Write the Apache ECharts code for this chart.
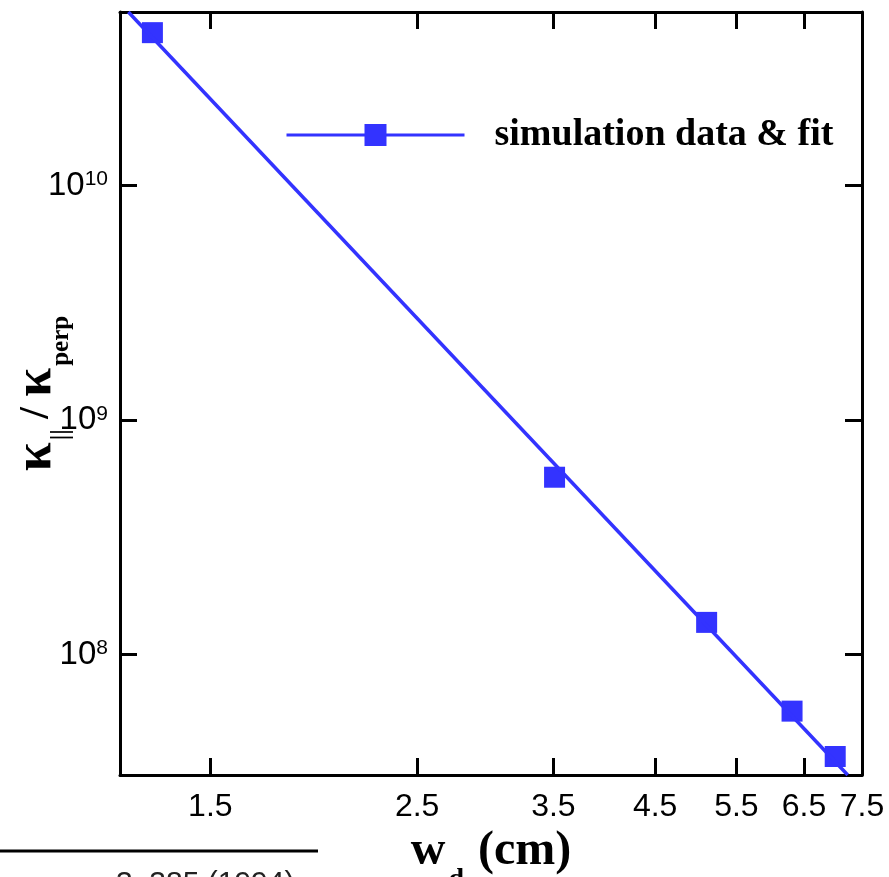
<!DOCTYPE html>
<html><head><meta charset="utf-8">
<script src="https://cdn.jsdelivr.net/npm/echarts@6/dist/echarts.min.js"></script>
<style>html,body{margin:0;padding:0;background:#fff}#c{width:889px;height:877px}</style>
</head><body><div id="c"></div>
<script>
const seriesName = 'simulation data & fit';
const simX = [1.30, 3.51, 5.11, 6.31, 7.02];
const simY = [4.49e10, 5.70e8, 1.37e8, 5.73e7, 3.67e7];
const fitX = [1.225, 7.24];
const fitY = [5.5e10, 3.06e7];
const xTicks = [1.5, 2.5, 3.5, 4.5, 5.5, 6.5, 7.5];
const xTickLabels = ['1.5', '2.5', '3.5', '4.5', '5.5', '6.5', '7.5'];
const yTicks = [1e8, 1e9, 1e10];
const yTickExps = ['8', '9', '10'];
const xRange = [1.2, 7.5];
const yRange = [3.06e7, 5.5e10];

const BLUE = '#3333ff';
function nearestIdx(arr, v) {
  let b = 0;
  for (let i = 1; i < arr.length; i++) {
    if (Math.abs(Math.log(arr[i]) - Math.log(v)) < Math.abs(Math.log(arr[b]) - Math.log(v))) b = i;
  }
  return b;
}
const chart = echarts.init(document.getElementById('c'), null, {renderer: 'canvas'});
const axisLineStyle = {color: '#000', width: 3};
const tickCommon = {show: true, inside: true, length: 17, lineStyle: {color: '#000', width: 3}};
const serif = 'Liberation Serif';

const option = {
  animation: false,
  backgroundColor: '#fff',
  grid: {left: 120, right: 27, top: 12, bottom: 102, containLabel: false, outerBoundsMode: 'none'},
  legend: {
    data: [seriesName],
    left: 285, top: 116, padding: 0,
    itemWidth: 178, itemHeight: 27.5,
    lineStyle: {width: 3},
    textStyle: {fontFamily: serif, fontWeight: 'bold', fontSize: 38, color: '#000', padding: [0, 0, 0, 25]},
    selectedMode: false
  },
  xAxis: [{
    type: 'log', min: xRange[0], max: xRange[1], position: 'bottom',
    axisLine: {lineStyle: axisLineStyle},
    axisTick: Object.assign({customValues: xTicks}, tickCommon),
    minorTick: {show: false},
    splitLine: {show: false},
    axisLabel: {
      customValues: xTicks, margin: 16,
      fontFamily: 'Liberation Sans', fontSize: 32, color: '#000',
      formatter: v => xTickLabels[nearestIdx(xTicks, v)]
    },
    name: '{m|w}{s|d}{m| (cm)}',
    nameLocation: 'middle', nameGap: 53, nameMoveOverlap: false,
    nameTextStyle: {
      rich: {
        m: {fontFamily: serif, fontWeight: 'bold', fontSize: 48, lineHeight: 48, color: '#000'},
        s: {fontFamily: serif, fontWeight: 'bold', fontSize: 28, lineHeight: 28, color: '#000', verticalAlign: 'top', padding: [38, 2, 0, 3]}
      }
    }
  }, {
    type: 'log', min: xRange[0], max: xRange[1], position: 'top',
    axisLine: {lineStyle: axisLineStyle},
    axisTick: Object.assign({customValues: xTicks}, tickCommon),
    axisLabel: {show: false},
    splitLine: {show: false}
  }],
  yAxis: [{
    type: 'log', min: yRange[0], max: yRange[1], position: 'left',
    axisLine: {lineStyle: axisLineStyle},
    axisTick: Object.assign({customValues: yTicks}, tickCommon),
    minorTick: {show: false},
    splitLine: {show: false},
    axisLabel: {
      customValues: yTicks, margin: 12,
      formatter: v => '{b|10}{s|' + yTickExps[nearestIdx(yTicks, v)] + '}',
      rich: {
        b: {fontFamily: 'Liberation Sans', fontSize: 33, lineHeight: 33, color: '#000'},
        s: {fontFamily: 'Liberation Sans', fontSize: 21, lineHeight: 14, color: '#000', verticalAlign: 'top'}
      }
    },
    name: '{k|κ}{t|||}{sl| / }{k|κ}{t|perp}',
    nameLocation: 'middle', nameRotate: 90, nameGap: 58, nameMoveOverlap: false,
    nameTextStyle: {
      rich: {
        k: {fontFamily: serif, fontWeight: 'bold', fontSize: 52, lineHeight: 50, color: '#000'},
        sl: {fontFamily: serif, fontWeight: 'bold', fontSize: 42, lineHeight: 42, color: '#000'},
        t: {fontFamily: serif, fontWeight: 'bold', fontSize: 25, lineHeight: 25, color: '#000', verticalAlign: 'top', padding: [37, 0, 0, 2]}
      }
    }
  }, {
    type: 'log', min: yRange[0], max: yRange[1], position: 'right',
    axisLine: {lineStyle: axisLineStyle},
    axisTick: Object.assign({customValues: yTicks}, tickCommon),
    axisLabel: {show: false},
    splitLine: {show: false}
  }],
  series: [{
    name: seriesName, type: 'line',
    xAxisIndex: 0, yAxisIndex: 0,
    data: fitX.map((x, i) => [x, fitY[i]]),
    symbol: 'rect', showSymbol: false, clip: true,
    lineStyle: {color: BLUE, width: 3.5},
    itemStyle: {color: BLUE}
  }, {
    name: seriesName, type: 'scatter',
    xAxisIndex: 0, yAxisIndex: 0,
    data: simX.map((x, i) => [x, simY[i]]),
    symbol: 'rect', symbolSize: 21,
    itemStyle: {color: BLUE, opacity: 1}
  }],
  graphic: [
    {type: 'line', shape: {x1: 0, y1: 851, x2: 318, y2: 851}, style: {stroke: '#000', lineWidth: 3}},
    {type: 'text', left: 116, top: 869, style: {text: '3, 385 (1994)', fontFamily: 'Liberation Sans', fontSize: 30, fill: '#222'}}
  ]
};
chart.setOption(option);
</script>
</body></html>
